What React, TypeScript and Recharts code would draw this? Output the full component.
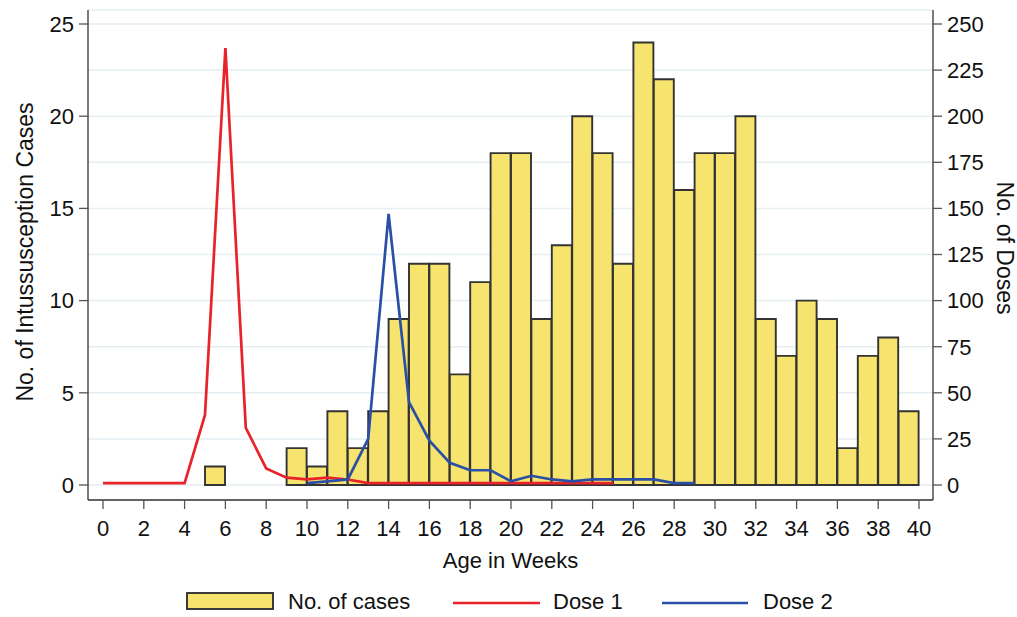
import React from 'react';
import { ComposedChart, Bar, Line, XAxis, YAxis, CartesianGrid, Legend } from 'recharts';

// ---- data ----
const binStartWeeks = [0, 1, 2, 3, 4, 5, 6, 7, 8, 9, 10, 11, 12, 13, 14, 15, 16, 17, 18, 19, 20, 21, 22, 23, 24, 25, 26, 27, 28, 29, 30, 31, 32, 33, 34, 35, 36, 37, 38, 39];
const casesPerWeek = [null, null, null, null, null, 1, null, null, null, 2, 1, 4, 2, 4, 9, 12, 12, 6, 11, 18, 18, 9, 13, 20, 18, 12, 24, 22, 16, 18, 18, 20, 9, 7, 10, 9, 2, 7, 8, 4];

const dose1Weeks = [0, 1, 2, 3, 4, 5, 6, 7, 8, 9, 10, 11, 12, 13, 14, 15, 16, 17, 18, 19, 20, 21, 22, 23, 24, 25];
const dose1Counts = [1, 1, 1, 1, 1, 38, 237, 31, 9, 4, 3, 4, 3, 1, 1, 1, 1, 1, 1, 1, 1, 1, 1, 1, 1, 1];

const dose2Weeks = [10, 11, 12, 13, 14, 15, 16, 17, 18, 19, 20, 21, 22, 23, 24, 25, 26, 27, 28, 29];
const dose2Counts = [1, 2, 3, 25, 147, 45, 24, 12, 8, 8, 2, 5, 3, 2, 3, 3, 3, 3, 1, 1];

const weekTicks = [0, 2, 4, 6, 8, 10, 12, 14, 16, 18, 20, 22, 24, 26, 28, 30, 32, 34, 36, 38, 40];
const caseTicks = [0, 5, 10, 15, 20, 25];
const doseTicks = [0, 25, 50, 75, 100, 125, 150, 175, 200, 225, 250];

const seriesNames = { cases: 'No. of cases', dose1: 'Dose 1', dose2: 'Dose 2' };
const axisTitles = { x: 'Age in Weeks', left: 'No. of Intussusception Cases', right: 'No. of Doses' };

const barRows = binStartWeeks.map((w, i) => ({ week: w, cases: casesPerWeek[i] }));
const dose1Rows = dose1Weeks.map((w, i) => ({ x: w, dose1: dose1Counts[i] }));
const dose2Rows = dose2Weeks.map((w, i) => ({ x: w, dose2: dose2Counts[i] }));

// ---- styles / layout ----
const W = 1017;
const H = 617;
const FONT = '"Liberation Sans", Arial, Helvetica, sans-serif';
const BAR_FILL = '#f7e46f';
const BAR_STROKE = '#333333';
const RED = '#e8232a';
const BLUE = '#2a4fa6';
const AXIS = '#333333';
const GRID = '#e5eef2';
const TEXT = '#111111';
const XPAD = { left: 15, right: 14 };
const YPAD = { top: 14, bottom: 15 };

const tickStyle = { fontSize: 22, fill: TEXT, fontFamily: FONT };

const LeftTitle = () => (
  <text
    x={33}
    y={252}
    transform="rotate(-90 33 252)"
    textAnchor="middle"
    fontSize={23}
    fill={TEXT}
    fontFamily={FONT}
  >
    {axisTitles.left}
  </text>
);

const RightTitle = () => (
  <text
    x={997}
    y={248}
    transform="rotate(90 997 248)"
    textAnchor="middle"
    fontSize={23}
    fill={TEXT}
    fontFamily={FONT}
  >
    {axisTitles.right}
  </text>
);

const legendSlots: Record<string, { sx: number; sw: number; tx: number }> = {
  cases: { sx: 187, sw: 86, tx: 288 },
  dose1: { sx: 453, sw: 87, tx: 553 },
  dose2: { sx: 662, sw: 86, tx: 763 },
};

const renderLegend = (props: any) => {
  const payload = props.payload || [];
  return (
    <svg width={W} height={29} style={{ display: 'block' }}>
      {payload.map((p: any) => {
        const key = String(p.dataKey);
        const slot = legendSlots[key];
        if (!slot) return null;
        return (
          <g key={key}>
            {key === 'cases' ? (
              <rect x={slot.sx} y={5} width={slot.sw} height={16} fill={BAR_FILL} stroke={BAR_STROKE} strokeWidth={1.9} />
            ) : (
              <line x1={slot.sx} x2={slot.sx + slot.sw} y1={15} y2={15} stroke={p.color} strokeWidth={2.7} />
            )}
            <text x={slot.tx} y={21} fontSize={22} fill={TEXT} fontFamily={FONT}>
              {p.value}
            </text>
          </g>
        );
      })}
    </svg>
  );
};

export default function App() {
  return (
    <div style={{ position: 'absolute', left: 0, top: 0, width: W, height: H, background: '#fff', fontFamily: FONT }}>
      <ComposedChart
        width={W}
        height={H}
        data={barRows}
        margin={{ top: 10, right: 0, bottom: 0, left: 0 }}
        barCategoryGap={0}
        barGap={0}
      >
        <CartesianGrid
          xAxisId="num"
          yAxisId="right"
          vertical={false}
          stroke={GRID}
          strokeWidth={1.5}
        />
        <XAxis
          xAxisId="cat"
          dataKey="week"
          type="category"
          hide
          height={0}
          padding={XPAD}
        />
        <XAxis
          xAxisId="num"
          dataKey="x"
          type="number"
          domain={[0, 40]}
          allowDataOverflow
          ticks={weekTicks}
          interval={0}
          padding={XPAD}
          height={117}
          tickSize={9}
          tickMargin={11}
          tick={tickStyle}
          axisLine={{ stroke: AXIS, strokeWidth: 1.3 }}
          tickLine={{ stroke: '#555', strokeWidth: 1.3 }}
          label={{ value: axisTitles.x, position: 'insideTop', offset: 52, fontSize: 22, fill: TEXT, fontFamily: FONT }}
        />
        <YAxis
          yAxisId="left"
          orientation="left"
          domain={[0, 25]}
          ticks={caseTicks}
          interval={0}
          width={88}
          padding={YPAD}
          tickSize={9}
          tickMargin={5}
          tick={tickStyle}
          axisLine={{ stroke: AXIS, strokeWidth: 1.3 }}
          tickLine={{ stroke: '#555', strokeWidth: 1.3 }}
          label={<LeftTitle />}
        />
        <YAxis
          yAxisId="right"
          orientation="right"
          domain={[0, 250]}
          ticks={doseTicks}
          interval={0}
          width={84}
          padding={YPAD}
          tickSize={9}
          tickMargin={5}
          tick={tickStyle}
          axisLine={{ stroke: AXIS, strokeWidth: 1.3 }}
          tickLine={{ stroke: '#555', strokeWidth: 1.3 }}
          label={<RightTitle />}
        />
        <Bar
          xAxisId="cat"
          yAxisId="left"
          dataKey="cases"
          name={seriesNames.cases}
          fill={BAR_FILL}
          stroke={BAR_STROKE}
          strokeWidth={1.9}
          isAnimationActive={false}
          legendType="rect"
        />
        <Line
          xAxisId="num"
          yAxisId="right"
          data={dose1Rows}
          dataKey="dose1"
          name={seriesNames.dose1}
          stroke={RED}
          strokeWidth={2.7}
          dot={false}
          activeDot={false}
          type="linear"
          isAnimationActive={false}
        />
        <Line
          xAxisId="num"
          yAxisId="right"
          data={dose2Rows}
          dataKey="dose2"
          name={seriesNames.dose2}
          stroke={BLUE}
          strokeWidth={2.7}
          dot={false}
          activeDot={false}
          type="linear"
          isAnimationActive={false}
        />
        <Legend
          layout="horizontal"
          verticalAlign="middle"
          align="center"
          width={W}
          height={29}
          wrapperStyle={{ position: 'absolute', left: 0, top: 588, width: W, height: 29 }}
          content={renderLegend}
        />
      </ComposedChart>
    </div>
  );
}
